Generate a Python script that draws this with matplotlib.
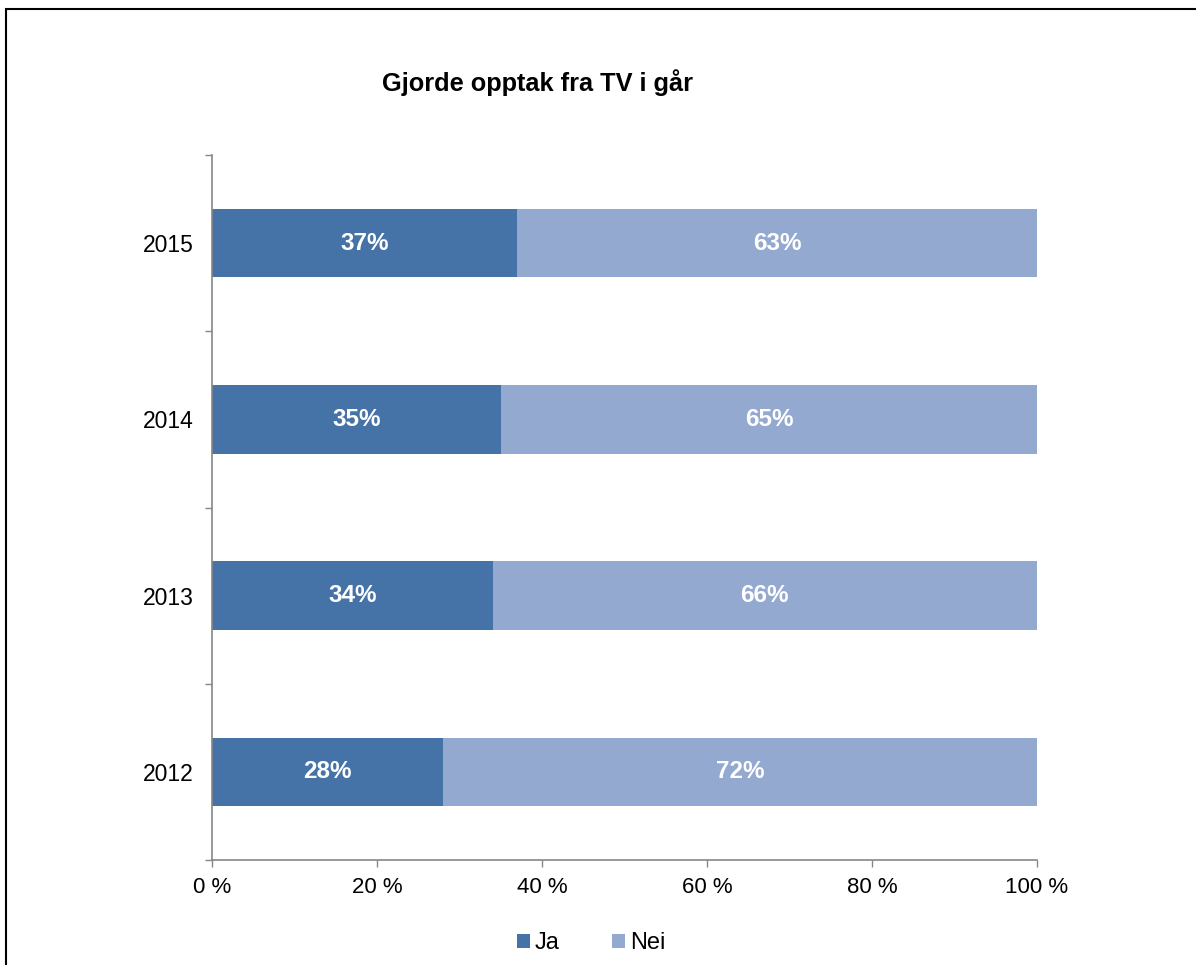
import matplotlib
matplotlib.use("Agg")
import matplotlib.pyplot as plt
from matplotlib.patches import Rectangle, Patch
from matplotlib.ticker import FixedLocator, FuncFormatter

plt.rcParams['font.family'] = ['Liberation Sans', 'DejaVu Sans']

years = ['2012', '2013', '2014', '2015']
ja = [28, 34, 35, 37]
nei = [72, 66, 65, 63]
xticks = [0, 20, 40, 60, 80, 100]

c_ja = '#4573A7'
c_nei = '#94A9CF'
spine_c = '#868686'

W, H = 1196, 965
fig = plt.figure(figsize=(W / 100, H / 100), dpi=100)
ax = fig.add_axes([212 / W, 1 - 860 / H, (1037 - 212) / W, (860 - 155) / H])

y = list(range(len(years)))
h = 0.39
ax.barh(y, ja, height=h, color=c_ja, edgecolor='none')
ax.barh(y, nei, left=ja, height=h, color=c_nei, edgecolor='none')

for i in y:
    ax.text(ja[i] / 2, i, f'{ja[i]}%', ha='center', va='center', color='white',
            fontsize=17.5, fontweight='bold')
    ax.text(ja[i] + nei[i] / 2, i, f'{nei[i]}%', ha='center', va='center', color='white',
            fontsize=17.5, fontweight='bold')

ax.set_xlim(0, 100)
ax.set_ylim(-0.5, len(years) - 0.5)
ax.xaxis.set_major_locator(FixedLocator(xticks))
ax.xaxis.set_major_formatter(FuncFormatter(lambda v, p: f'{int(v)} %'))
ax.set_yticks(y)
ax.set_yticklabels(years)
ax.set_yticks([i - 0.5 for i in range(len(years) + 1)], minor=True)
ax.tick_params(axis='y', which='major', length=0, pad=13.5, labelsize=16.5)
ax.tick_params(axis='y', which='minor', length=5, width=1, color=spine_c, direction='out')
ax.tick_params(axis='x', which='major', length=5, width=1, color=spine_c, direction='out',
               labelsize=16, pad=7)
for s in ['top', 'right']:
    ax.spines[s].set_visible(False)
for s in ['left', 'bottom']:
    ax.spines[s].set_color(spine_c)
    ax.spines[s].set_linewidth(1.2)

fig.text(538 / W, 1 - 83 / H, 'Gjorde opptak fra TV i går', ha='center', va='center',
         fontsize=18.3, fontweight='bold')

handles = [Patch(facecolor=c_ja, label='Ja'), Patch(facecolor=c_nei, label='Nei')]
fig.legend(handles=handles, loc='center', bbox_to_anchor=(591 / W, 1 - 943 / H), ncol=2,
           frameon=False, fontsize=17, handlelength=0.55, handleheight=0.55,
           handletextpad=0.2, columnspacing=2.25)

fig.patches.append(Rectangle((6 / W, -0.1), 1.2, 1 - 9 / H + 0.1, transform=fig.transFigure,
                             fill=False, edgecolor='black', linewidth=1.5))

fig.savefig('out.png', dpi=100)
